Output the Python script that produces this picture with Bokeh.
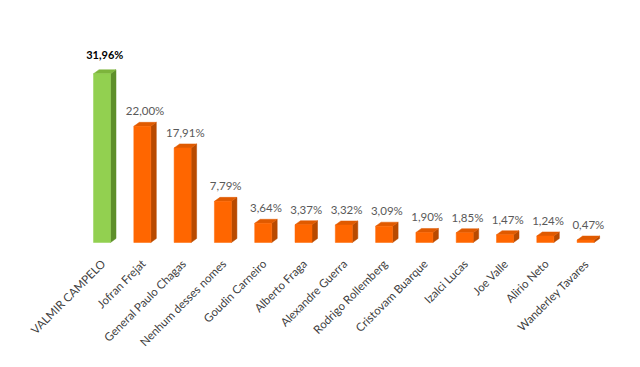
from bokeh.plotting import figure
from bokeh.models import Range1d, ColumnDataSource
from bokeh.core.properties import value
from bokeh.embed import file_html
from bokeh.resources import INLINE

candidates = ["VALMIR CAMPELO", "Jofran Frejat", "General Paulo Chagas", "Nenhum desses nomes",
              "Goudin Carneiro", "Alberto Fraga", "Alexandre Guerra", "Rodrigo Rollemberg",
              "Cristovam Buarque", "Izalci Lucas", "Joe Valle", "Alirio Neto", "Wanderley Tavares"]
values = [31.96, 22.00, 17.91, 7.79, 3.64, 3.37, 3.32, 3.09, 1.90, 1.85, 1.47, 1.24, 0.47]
labels = ["31,96%", "22,00%", "17,91%", "7,79%", "3,64%", "3,37%", "3,32%", "3,09%",
          "1,90%", "1,85%", "1,47%", "1,24%", "0,47%"]

W, H = 624, 351
x0, x1 = -2.519, 12.965
y0, y1 = -20.64, 45.83
px_x = W / (x1 - x0)
px_y = H / (y1 - y0)

bw = 17 / px_x          # front face width
dx = 5.5 / px_x         # depth in x
dy = 4.0 / px_y         # depth in y

p = figure(width=W, height=H, output_backend="svg", toolbar_location=None,
           x_range=Range1d(x0, x1), y_range=Range1d(y0, y1), min_border=0,
           outline_line_color=None)
p.axis.visible = False
p.grid.visible = False
p.background_fill_color = "white"
p.border_fill_color = "white"

idx = list(range(len(values)))
front_c, side_c, top_c = [], [], []
for i in idx:
    if i == 0:
        front_c.append("#92D050"); side_c.append("#5E8F2A"); top_c.append("#7DB53C")
    else:
        front_c.append("#FF6600"); side_c.append("#B84A00"); top_c.append("#E05A00")

sx, sy, tx, ty = [], [], [], []
for i, v in zip(idx, values):
    l, r = i - bw / 2, i + bw / 2
    sx.append([r, r + dx, r + dx, r]); sy.append([0, dy, v + dy, v])
    tx.append([l, r, r + dx, l + dx]); ty.append([v, v, v + dy, v + dy])

p.patches(xs=sx, ys=sy, fill_color=side_c, line_color=side_c, line_width=0.5)
p.patches(xs=tx, ys=ty, fill_color=top_c, line_color=top_c, line_width=0.5)
p.vbar(x=idx, top=values, bottom=0, width=bw, fill_color=front_c, line_color=front_c, line_width=0.5)

lab_src = ColumnDataSource(dict(x=[i + dx / 2 for i in idx[1:]], y=[v + dy for v in values[1:]],
                                t=labels[1:]))
p.text(x="x", y="y", text="t", source=lab_src, text_align="center", text_baseline="bottom",
       y_offset=-5, text_font=value("Lato"), text_font_size="11.5px", text_color="#595959")
p.text(x=[dx / 2], y=[values[0] + dy], text=[labels[0]], text_align="center", text_baseline="bottom",
       y_offset=-9, text_font=value("Lato"), text_font_size="11px", text_font_style="bold",
       text_color="#000000")

cat_src = ColumnDataSource(dict(x=idx, y=[0] * len(idx), t=candidates))
p.text(x="x", y="y", text="t", source=cat_src, angle=0.7854, text_align="right",
       text_baseline="middle", x_offset=1, y_offset=19, text_font=value("Lato"),
       text_font_size="11.5px", text_color="#404040")

open("out.html", "w").write(file_html(p, INLINE))
